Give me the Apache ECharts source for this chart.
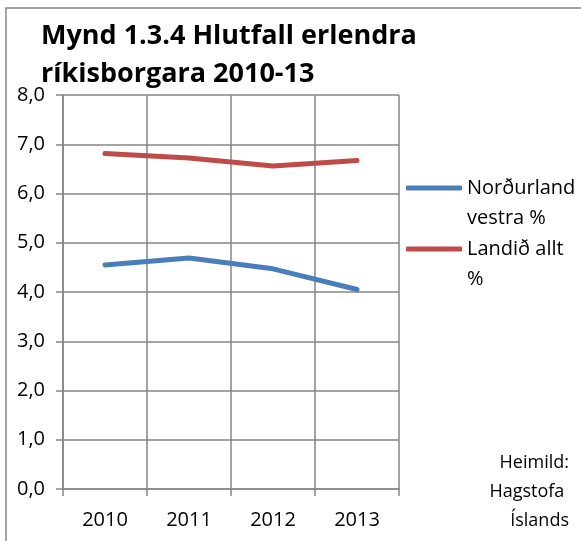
<!DOCTYPE html>
<html>
<head>
<meta charset="utf-8">
<script src="https://cdn.jsdelivr.net/npm/echarts@6/dist/echarts.min.js"></script>
<style>
  html, body { margin: 0; padding: 0; background: #fff; }
  #chart { width: 581px; height: 541px; }
</style>
</head>
<body>
<div id="chart"></div>
<script>
const years = ['2010', '2011', '2012', '2013'];
const nordurlandVestra = [4.55, 4.69, 4.47, 4.05];
const landidAllt = [6.81, 6.72, 6.56, 6.67];
const seriesNames = ['Norðurland\nvestra %', 'Landið allt\n%'];
const yTicks = [0, 1, 2, 3, 4, 5, 6, 7, 8];

const font = '"Open Sans", sans-serif';
const gray = '#868686';

// one legend per series so each two-line entry can sit where it sits in the picture
function legendAt(name, top) {
  return {
    data: [name],
    orient: 'vertical',
    left: 406,
    top: top,
    padding: 0,
    icon: 'roundRect',
    itemWidth: 56,
    itemHeight: 5,
    // leading blank line keeps the icon level with the first text line
    formatter: n => '\n' + n,
    textStyle: { fontFamily: font, fontSize: 20, color: '#000', lineHeight: 30 }
  };
}

const chart = echarts.init(document.getElementById('chart'));
const option = {
  backgroundColor: '#fff',
  animation: false,
  title: {
    text: 'Mynd 1.3.4 Hlutfall erlendra\nríkisborgara 2010-13',
    left: 41,
    top: 17,
    padding: 0,
    textStyle: { fontFamily: font, fontSize: 27, fontWeight: 'bold', color: '#000', lineHeight: 38 }
  },
  graphic: [
    {
      type: 'rect',
      shape: { x: 6, y: 8, width: 700, height: 700 },
      style: { fill: 'none', stroke: gray, lineWidth: 1.5 },
      silent: true,
      z: -1
    },
    {
      type: 'text',
      x: 569,
      y: 448,
      style: {
        text: 'Heimild:\nHagstofa \nÍslands',
        align: 'right',
        fontFamily: font,
        fontSize: 18,
        lineHeight: 29,
        fill: '#000'
      }
    }
  ],
  legend: [legendAt(seriesNames[0], 143), legendAt(seriesNames[1], 204)],
  grid: { left: 63, right: 182, top: 95, bottom: 52 },
  xAxis: {
    type: 'category',
    data: years,
    boundaryGap: true,
    axisLine: { show: true, lineStyle: { color: gray, width: 1.5 } },
    axisTick: { show: true, length: 7, lineStyle: { color: gray, width: 1.5 } },
    splitLine: { show: true, lineStyle: { color: gray, width: 1.5 } },
    axisLabel: { margin: 21, fontFamily: font, fontSize: 20, color: '#000' }
  },
  yAxis: {
    type: 'value',
    min: yTicks[0],
    max: yTicks[yTicks.length - 1],
    interval: 1,
    axisLine: { show: true, lineStyle: { color: gray, width: 1.5 } },
    axisTick: { show: true, length: 7, lineStyle: { color: gray, width: 1.5 } },
    splitLine: { show: true, lineStyle: { color: gray, width: 1.5 } },
    axisLabel: {
      margin: 18,
      fontFamily: font,
      fontSize: 20,
      color: '#000',
      formatter: v => v.toFixed(1).replace('.', ',')
    }
  },
  series: [
    {
      name: seriesNames[0],
      type: 'line',
      data: nordurlandVestra,
      symbol: 'none',
      color: '#4A7EBB',
      lineStyle: { width: 5, color: '#4A7EBB', cap: 'round', join: 'round' }
    },
    {
      name: seriesNames[1],
      type: 'line',
      data: landidAllt,
      symbol: 'none',
      color: '#BE4B48',
      lineStyle: { width: 5, color: '#BE4B48', cap: 'round', join: 'round' }
    }
  ]
};
chart.setOption(option);
</script>
</body>
</html>
